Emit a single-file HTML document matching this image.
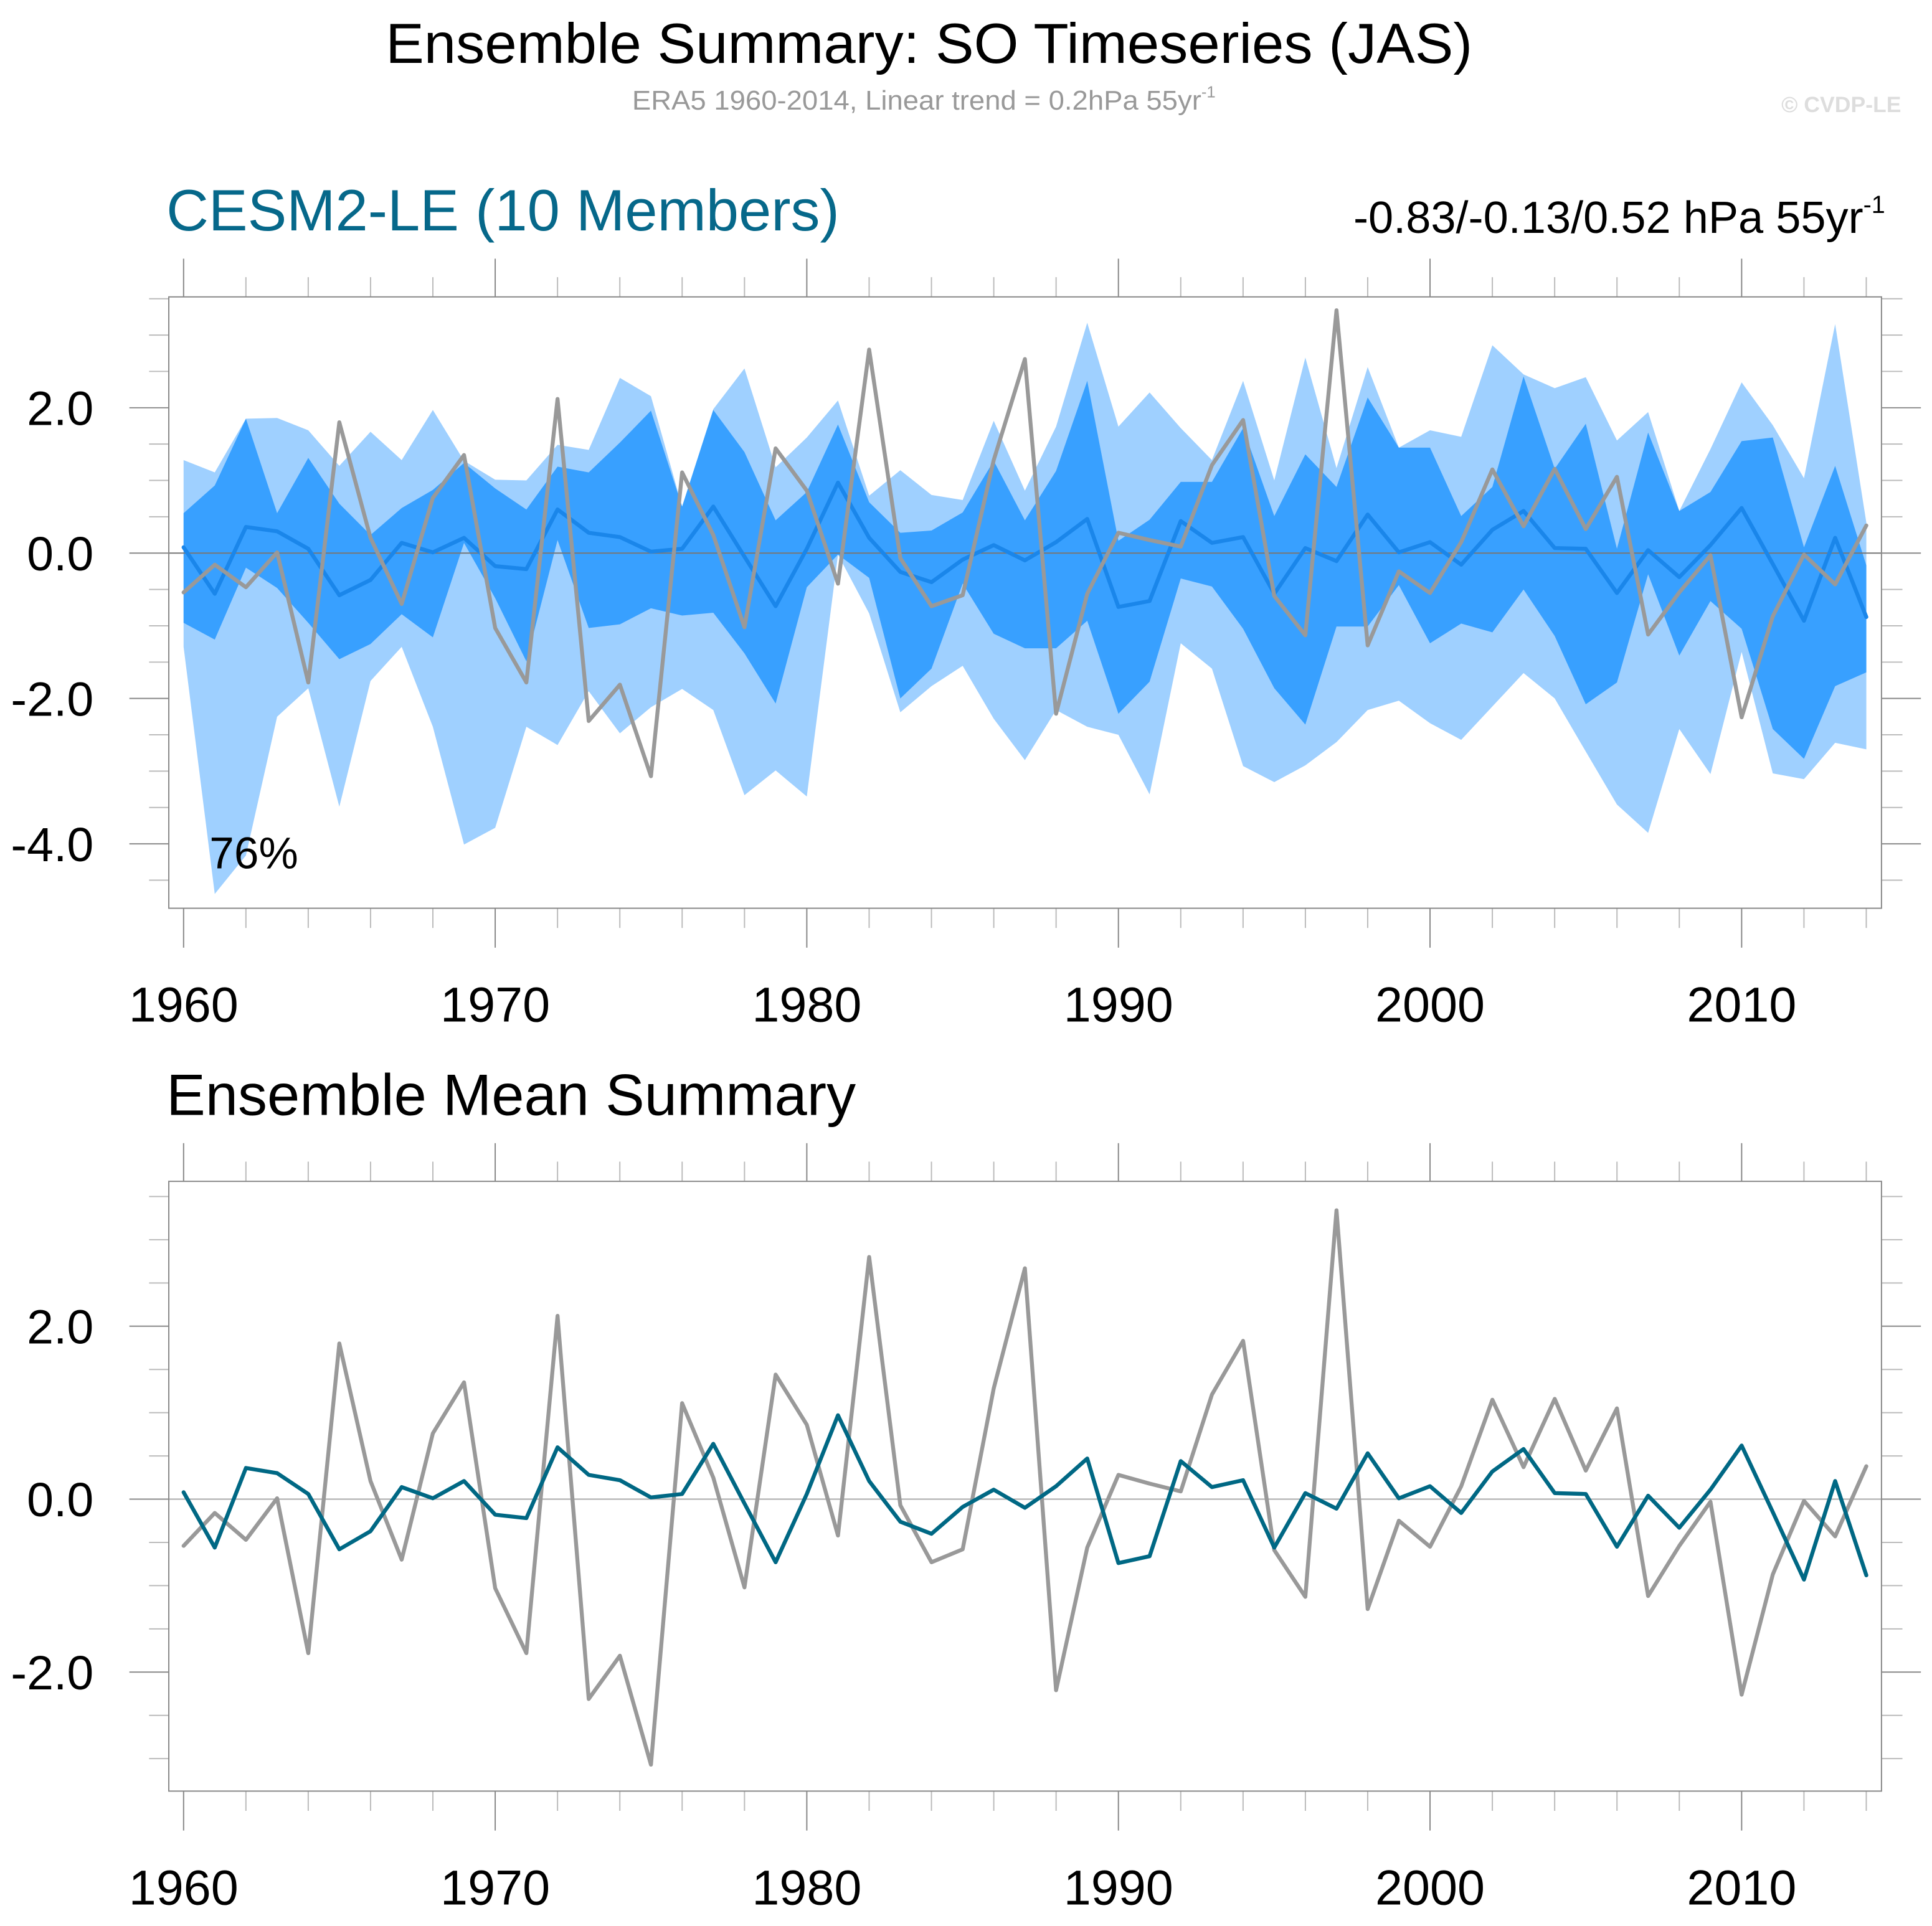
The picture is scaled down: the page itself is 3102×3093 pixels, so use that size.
<!DOCTYPE html>
<html><head><meta charset="utf-8"><style>
html,body{margin:0;padding:0;background:#fff;}
svg{display:block;font-family:"Liberation Sans",sans-serif;}
</style></head><body>
<svg id="chart" width="3102" height="3093" viewBox="0 0 1568 1563.5" preserveAspectRatio="none" xmlns="http://www.w3.org/2000/svg">
<text x="754" y="51" font-size="46" text-anchor="middle" textLength="882" lengthAdjust="spacingAndGlyphs">Ensemble Summary: SO Timeseries (JAS)</text>
<text x="513" y="89" font-size="22" fill="#999"><tspan textLength="462" lengthAdjust="spacingAndGlyphs">ERA5 1960-2014, Linear trend = 0.2hPa 55yr</tspan><tspan font-size="13" dy="-10">-1</tspan></text>
<text x="1543" y="91" font-size="18" font-weight="bold" fill="#ddd" text-anchor="end">© CVDP-LE</text>
<text x="135" y="187" font-size="47.5" fill="#06688a">CESM2-LE (10 Members)</text>
<text x="1530" y="189" font-size="36.5" text-anchor="end">-0.83/-0.13/0.52 hPa 55yr<tspan font-size="20" dy="-16">-1</tspan></text>
<text x="135" y="905" font-size="47.5">Ensemble Mean Summary</text>
<g id="top"></g>
<g id="bot"></g>
<text x="170" y="705" font-size="36">76%</text>
</svg>
<script>
const years = [];
for (let y = 1960; y <= 2014; y++) years.push(y);
const era5 = [-0.54,-0.16,-0.47,0.01,-1.78,1.80,0.21,-0.70,0.76,1.35,-1.03,-1.78,2.12,-2.31,-1.81,
 -3.07,1.11,0.25,-1.02,1.44,0.86,-0.42,2.80,-0.07,-0.73,-0.58,1.28,2.67,-2.21,-0.56,
 0.28,0.18,0.09,1.21,1.83,-0.59,-1.13,3.34,-1.27,-0.25,-0.55,0.15,1.15,0.37,1.16,
 0.33,1.05,-1.12,-0.54,-0.03,-2.26,-0.87,-0.02,-0.43,0.38];
const ensMean = [0.08,-0.56,0.36,0.30,0.06,-0.58,-0.37,0.14,0.01,0.21,-0.18,-0.22,0.60,0.28,0.22,
 0.02,0.06,0.64,-0.05,-0.73,0.06,0.97,0.21,-0.26,-0.40,-0.09,0.11,-0.10,0.15,0.47,
 -0.74,-0.66,0.44,0.14,0.22,-0.56,0.07,-0.11,0.53,0.01,0.15,-0.16,0.32,0.58,0.07,
 0.06,-0.55,0.04,-0.33,0.11,0.62,-0.15,-0.93,0.21,-0.88];
const p95 = [1.28,1.11,1.85,1.86,1.69,1.20,1.67,1.28,1.97,1.27,1.01,1.00,1.49,1.42,2.41,
 2.16,0.64,1.98,2.54,1.18,1.59,2.10,0.79,1.14,0.80,0.73,1.82,0.86,1.74,3.17,
 1.74,2.21,1.72,1.28,2.37,1.00,2.69,1.17,2.56,1.45,1.69,1.60,2.86,2.46,2.27,
 2.42,1.55,1.94,0.58,1.43,2.35,1.76,1.03,3.15,0.42];
const p75 = [0.55,0.93,1.85,0.55,1.31,0.68,0.25,0.62,0.87,1.24,0.89,0.60,1.19,1.11,1.52,
 1.96,0.64,1.97,1.39,0.45,0.84,1.77,0.70,0.28,0.31,0.56,1.27,0.45,1.13,2.37,
 0.17,0.46,0.98,0.98,1.72,0.51,1.36,0.91,2.14,1.45,1.45,0.51,0.91,2.43,1.16,
 1.78,0.06,1.66,0.58,0.84,1.54,1.59,0.08,1.20,-0.17];
const p25 = [-0.96,-1.19,-0.20,-0.48,-0.96,-1.46,-1.25,-0.84,-1.16,0.14,-0.62,-1.49,0.18,-1.03,-0.98,
 -0.76,-0.86,-0.82,-1.38,-2.07,-0.47,-0.02,-0.34,-2.00,-1.59,-0.42,-1.11,-1.31,-1.31,-0.93,
 -2.21,-1.77,-0.35,-0.46,-1.04,-1.86,-2.36,-1.01,-1.01,-0.44,-1.24,-0.97,-1.09,-0.50,-1.14,
 -2.08,-1.78,-0.29,-1.41,-0.66,-1.04,-2.42,-2.83,-1.83,-1.64];
const p5 = [-1.29,-4.69,-4.16,-2.25,-1.86,-3.49,-1.76,-1.29,-2.39,-4.01,-3.78,-2.39,-2.64,-1.90,-2.48,
 -2.12,-1.87,-2.16,-3.33,-2.99,-3.35,-0.02,-0.83,-2.19,-1.83,-1.55,-2.28,-2.85,-2.16,-2.39,
 -2.50,-3.32,-1.24,-1.59,-2.93,-3.15,-2.92,-2.60,-2.16,-2.03,-2.34,-2.57,-2.11,-1.65,-2.00,
 -2.73,-3.46,-3.85,-2.42,-3.04,-1.36,-3.03,-3.11,-2.61,-2.70];
const topYTicks = ["-4.0","-2.0","0.0","2.0"];
const botYTicks = ["-2.0","0.0","2.0"];
const xTickLabels = ["1960","1970","1980","1990","2000","2010"];

const NS = "http://www.w3.org/2000/svg";
function mk(parent, tag, attrs) {
  const e = document.createElementNS(NS, tag);
  for (const k in attrs) e.setAttribute(k, attrs[k]);
  parent.appendChild(e);
  return e;
}
const xOf = y => 149 + (y - 1960) * 25.29;
function line(g, x1, y1, x2, y2, c, w) { return mk(g, 'line', {x1, y1, x2, y2, stroke: c, 'stroke-width': w}); }

function panel(g, top, bottom, zeroY, unit, vmin, vmax, yTicks) {
  const yOf = v => zeroY - v * unit;
  for (let y = 1960; y <= 2014; y += 2) {
    const major = (y % 10 === 0);
    const x = xOf(y);
    const t1 = line(g, x, top - (major ? 31 : 16), x, top, major ? '#888' : '#bbb', 1);
    
    
    const t2 = line(g, x, bottom, x, bottom + (major ? 32 : 16), major ? '#888' : '#bbb', 1);
    
    
  }
  for (let v = vmin; v <= vmax + 1e-9; v += 0.5) {
    const major = Math.abs(v - Math.round(v / 2) * 2) < 1e-9;
    const y = yOf(v);
    const a = line(g, major ? 105 : 121, y, 137, y, major ? '#888' : '#bbb', 1);
    
    
    const b = line(g, 1527, y, major ? 1559 : 1544, y, major ? '#888' : '#bbb', 1);
    
    
  }
  yTicks.forEach(lbl => {
    const t = mk(g, 'text', {x: 76, y: yOf(parseFloat(lbl)) + 14, 'font-size': 39, 'text-anchor': 'end'});
    t.textContent = lbl;
    
    
  });
  xTickLabels.forEach(lbl => {
    const t = mk(g, 'text', {x: xOf(parseInt(lbl)), y: bottom + 92, 'font-size': 40, 'text-anchor': 'middle'});
    t.textContent = lbl;
    
    
  });
  return yOf;
}

function band(g, upper, lower, yOf, color, name) {
  let d = '';
  years.forEach((y, i) => { d += (i ? 'L' : 'M') + xOf(y).toFixed(1) + ',' + yOf(upper[i]).toFixed(1); });
  for (let i = years.length - 1; i >= 0; i--) d += 'L' + xOf(years[i]).toFixed(1) + ',' + yOf(lower[i]).toFixed(1);
  const p = mk(g, 'path', {d: d + 'Z', fill: color, stroke: 'none'});
  
  
}
function series(g, vals, yOf, color, w, name) {
  const pts = years.map((y, i) => xOf(y).toFixed(1) + ',' + yOf(vals[i]).toFixed(1)).join(' ');
  const p = mk(g, 'polyline', {points: pts, fill: 'none', stroke: color, 'stroke-width': w, 'stroke-linejoin': 'round', 'stroke-linecap': 'round'});
  
  
}

const gt = document.getElementById('top');


const yT = panel(gt, 241, 737.3, 449, 59, -4.5, 3.5, topYTicks);
band(gt, p95, p5, yT, '#9fd0ff', 'band-5-95');
band(gt, p75, p25, yT, '#38a0ff', 'band-25-75');
const z1 = line(gt, 137, yT(0), 1527, yT(0), '#777', 1);


series(gt, ensMean, yT, '#1a86ea', 3.2, 'ensemble-mean-line');
series(gt, era5, yT, '#999', 3.2, 'era5-line');
const r1 = mk(gt, 'rect', {x: 137, y: 241, width: 1390, height: 496.3, fill: 'none', stroke: '#888', 'stroke-width': 1});



const gb = document.getElementById('bot');


const yB = panel(gb, 959, 1454, 1217, 70.2, -3.0, 3.5, botYTicks);
const z2 = line(gb, 137, yB(0), 1527, yB(0), '#aaa', 1);


series(gb, era5, yB, '#999', 3.2, 'era5-line');
series(gb, ensMean, yB, '#006884', 3.2, 'ensemble-mean-line');
const r2 = mk(gb, 'rect', {x: 137, y: 959, width: 1390, height: 495, fill: 'none', stroke: '#888', 'stroke-width': 1});


</script>
</body></html>
